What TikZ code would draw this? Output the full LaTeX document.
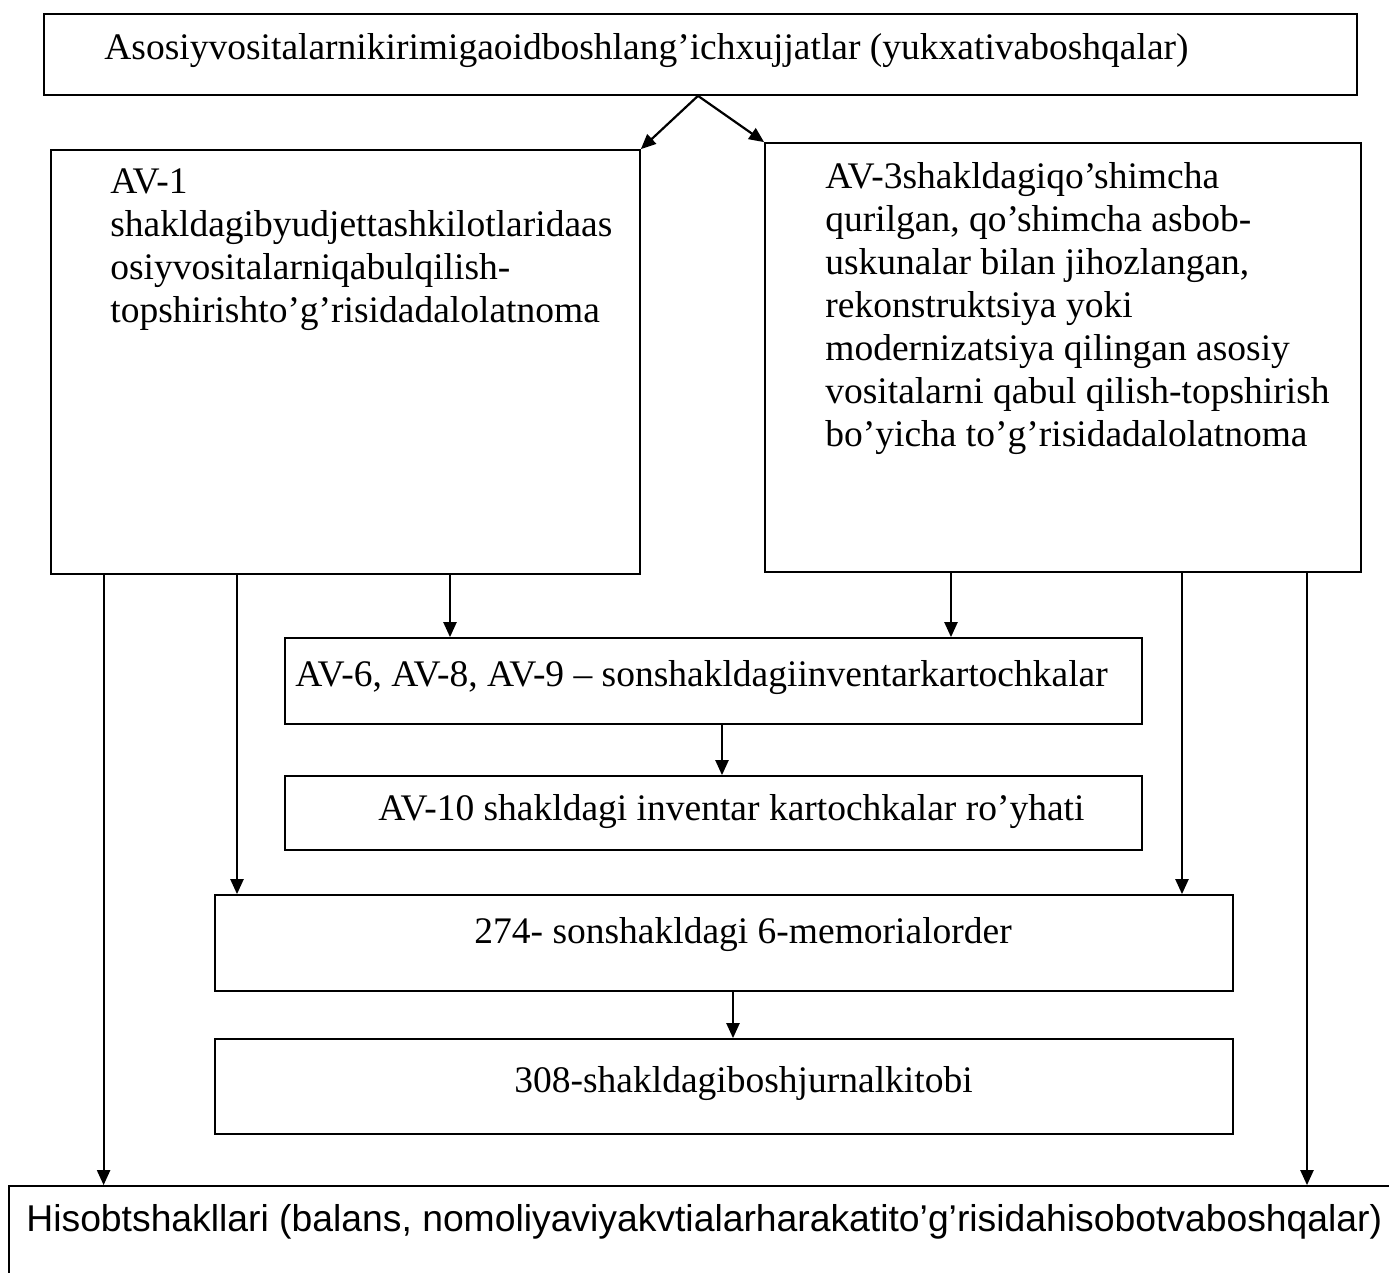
\documentclass[tikz,border=0pt]{standalone}
\usepackage{fontspec}
\setmainfont{Liberation Serif}
\newfontfamily\arialfont{Liberation Sans}
\usetikzlibrary{arrows.meta}
\begin{document}
\begin{tikzpicture}[x=0.5pt,y=-0.5pt,
  frame/.style 2 args={draw, line width=0.85pt, inner sep=0pt,
    minimum width=#1*0.5pt, minimum height=#2*0.5pt},
  txt/.style={anchor=base west, inner sep=0pt,
    font=\fontsize{18.75}{21.5}\selectfont},
  sanstxt/.style={anchor=base west, inner sep=0pt,
    font=\arialfont\fontsize{18.65}{21}\selectfont},
  arr/.style={-{Triangle[length=7.5pt,width=6.5pt]}, line width=1.1pt}]
\useasboundingbox (0,0) rectangle (1389,1273);
\fill[white] (0,0) rectangle (1389,1273);
\clip (0,0) rectangle (1389,1273);

% boxes
\node[frame={1313}{81}]  (top) at (700.5,54.5) {};
\node[frame={589}{424}]  (lft) at (345.5,362)  {};
\node[frame={596}{429}]  (rgt) at (1063,357.5) {};
\node[frame={857}{86}]   (inv) at (713.5,681)  {};
\node[frame={857}{74}]   (reg) at (713.5,813)  {};
\node[frame={1018}{96}]  (mem) at (724,943)    {};
\node[frame={1018}{95}]  (jrn) at (724,1086.5) {};
\node[frame={1400}{200}] (rep) at (709,1286)   {};

% texts
\node[txt] (topT) at (104,60) {Asosiyvositalarnikirimigaoidboshlang’ichxujjatlar (yukxativaboshqalar)};
\node[txt] (lftT) at (110,194) {\vtop{%
  \hbox{AV-1}
  \hbox{shakldagibyudjettashkilotlaridaas}
  \hbox{osiyvositalarniqabulqilish-}
  \hbox{topshirishto’g’risidadalolatnoma}}};
\node[txt] (rgtT) at (825,189) {\vtop{%
  \hbox{AV-3shakldagiqo’shimcha}
  \hbox{qurilgan, qo’shimcha asbob-}
  \hbox{uskunalar bilan jihozlangan,}
  \hbox{rekonstruktsiya yoki}
  \hbox{modernizatsiya qilingan asosiy}
  \hbox{vositalarni qabul qilish-topshirish}
  \hbox{bo’yicha to’g’risidadalolatnoma}}};
\node[txt] (invT) at (295,686) {AV-6, AV-8, AV-9 – sonshakldagiinventarkartochkalar};
\node[txt] (regT) at (378,820) {AV-10 shakldagi inventar kartochkalar ro’yhati};
\node[txt] (memT) at (474,943) {274- sonshakldagi 6-memorialorder};
\node[txt] (jrnT) at (514,1092) {308-shakldagiboshjurnalkitobi};
\node[sanstxt] (repT) at (26,1231) {Hisobtshakllari (balans, nomoliyaviyakvtialarharakatito’g’risidahisobotvaboshqalar)};

% connectors
\draw[arr] (698,0 |- top.south) -- (lft.north east);
\draw[arr] (698,0 |- top.south) -- (rgt.north west);
\draw[arr] (103.6,0 |- lft.south) -- (103.6,0 |- rep.north);
\draw[arr] (237,0 |- lft.south) -- (237,0 |- mem.north);
\draw[arr] (450,0 |- lft.south) -- (450,0 |- inv.north);
\draw[arr] (951,0 |- rgt.south) -- (951,0 |- inv.north);
\draw[arr] (1182,0 |- rgt.south) -- (1182,0 |- mem.north);
\draw[arr] (1307,0 |- rgt.south) -- (1307,0 |- rep.north);
\draw[arr] (722,0 |- inv.south) -- (722,0 |- reg.north);
\draw[arr] (733,0 |- mem.south) -- (733,0 |- jrn.north);
\end{tikzpicture}
\end{document}
